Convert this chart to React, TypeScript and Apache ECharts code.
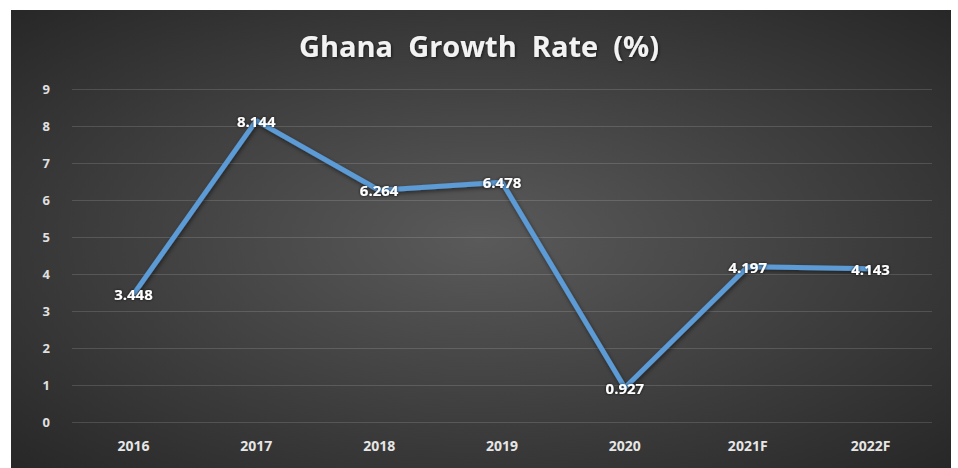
import React, { useEffect, useRef } from "react";
import * as echarts from "echarts";

const categories = ["2016", "2017", "2018", "2019", "2020", "2021F", "2022F"];
const growthRate = [3.448, 8.144, 6.264, 6.478, 0.927, 4.197, 4.143];
const yTicks = [0, 1, 2, 3, 4, 5, 6, 7, 8, 9];
const titleText = "Ghana  Growth  Rate  (%)";

export default function App() {
  const ref = useRef<HTMLDivElement>(null);
  useEffect(() => {
    if (!ref.current) return;
    const chart = echarts.init(ref.current, null, { renderer: "svg" });
    chart.setOption({
      animation: false,
      backgroundColor: "#ffffff",
      graphic: [
        {
          type: "rect",
          z: -10,
          silent: true,
          shape: { x: 11, y: 10, width: 940, height: 458 },
          style: {
            fill: new echarts.graphic.RadialGradient(0.5, 0.5, 0.75, [
              { offset: 0, color: "#5a5a5a" },
              { offset: 1, color: "#242424" },
            ]),
          },
        },
      ],
      title: {
        text: titleText,
        left: "center",
        top: 26,
        textStyle: {
          color: "#f2f2f2",
          fontFamily: "Open Sans",
          fontWeight: "bold",
          fontSize: 29,
          textShadowColor: "rgba(0,0,0,0.6)",
          textShadowBlur: 3,
          textShadowOffsetX: 1,
          textShadowOffsetY: 1,
        },
      },
      grid: { left: 72, right: 26, top: 89, bottom: 46, containLabel: false },
      xAxis: {
        type: "category",
        data: categories,
        boundaryGap: true,
        axisLine: { show: false },
        axisTick: { show: false },
        axisLabel: {
          color: "#e6e6e6",
          fontFamily: "Open Sans",
          fontWeight: "bold",
          fontSize: 14,
          margin: 16,
        },
      },
      yAxis: {
        type: "value",
        min: 0,
        max: 9,
        interval: 1,
        axisLine: { show: false },
        axisTick: { show: false },
        splitLine: { lineStyle: { color: "rgba(255,255,255,0.14)", width: 1 } },
        axisLabel: {
          color: "#e0e0e0",
          fontFamily: "Open Sans",
          fontWeight: "bold",
          fontSize: 13,
          margin: 22,
          formatter: (v: number) => (yTicks.includes(v) ? String(v) : ""),
        },
      },
      series: [
        {
          type: "line",
          data: growthRate,
          symbol: "circle",
          symbolSize: 2,
          showSymbol: true,
          itemStyle: { color: "rgba(0,0,0,0)" },
          lineStyle: {
            color: "#5b9bd5",
            width: 5,
            shadowColor: "rgba(0,0,0,0.5)",
            shadowBlur: 4,
            shadowOffsetX: 1,
            shadowOffsetY: 2,
          },
          label: {
            show: true,
            position: "inside",
            color: "#ffffff",
            fontFamily: "Open Sans",
            fontWeight: "bold",
            fontSize: 15,
            textShadowColor: "rgba(0,0,0,0.8)",
            textShadowBlur: 3,
            formatter: (p: any) => p.value.toFixed(3),
          },
        },
      ],
    });
    return () => chart.dispose();
  }, []);
  return (
    <div
      ref={ref}
      style={{ position: "fixed", left: 0, top: 0, width: 958, height: 468 }}
    />
  );
}
